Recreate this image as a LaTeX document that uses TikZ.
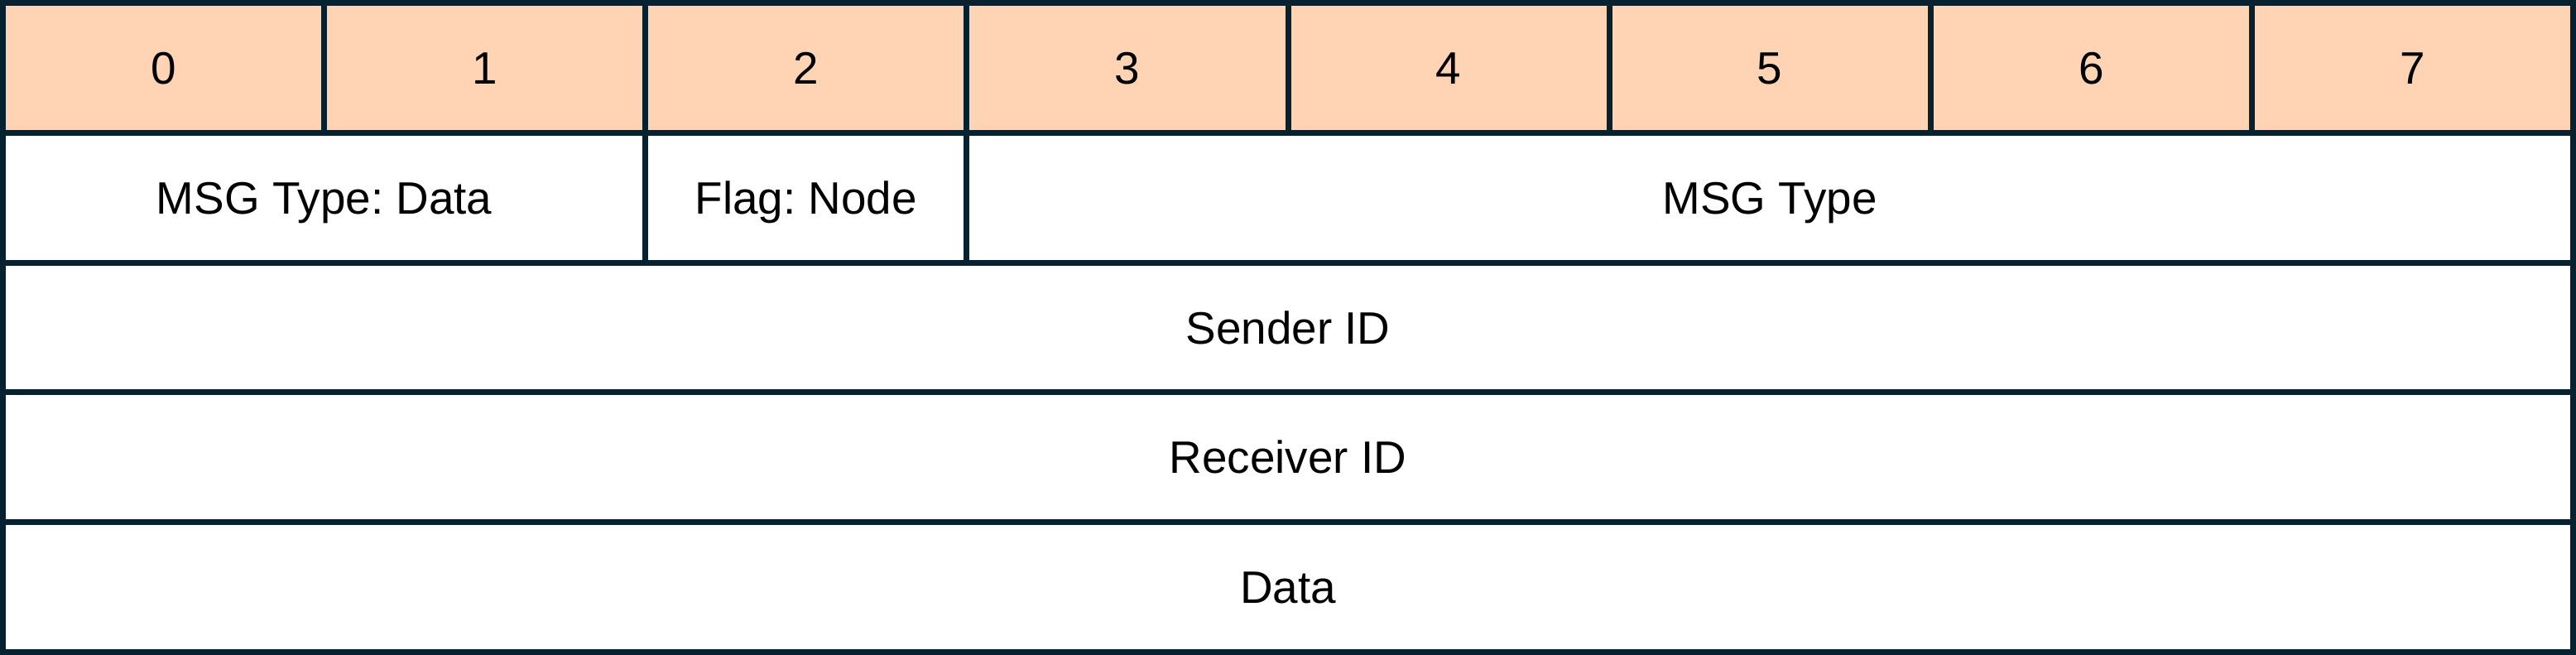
\documentclass[tikz,border=0pt]{standalone}
\usepackage{fontspec}
\setmainfont{Liberation Sans}
\frenchspacing
\definecolor{edge}{HTML}{06212F}
\definecolor{peach}{HTML}{FFD4B5}
\begin{document}
\begin{tikzpicture}[x=1cm,y=-1cm,
  cell/.style={draw=edge, line width=0.07cm, inner sep=0pt, outer sep=0pt, anchor=north west,
    font=\fontsize{15.6}{18}\selectfont, text=black, text height=11.17pt, text depth=0pt},
  head/.style={cell, fill=peach},
  body/.style={cell, fill=white}]
\useasboundingbox (0,0) rectangle (31.12,7.91);
\def\cw{3.88125}
\def\rh{1.568}
\foreach \i in {0,...,7}{
  \node[head, minimum width=\cw cm, minimum height=\rh cm] (h\i) at ({0.035+\i*\cw},0.035) {\i};
}
\node[body, minimum width=2*\cw cm, minimum height=\rh cm] (mtd) at (0.035,{0.035+\rh}) {MSG Type: Data};
\node[body, minimum width=\cw cm, minimum height=\rh cm] (flag) at ({0.035+2*\cw},{0.035+\rh}) {Flag: Node};
\node[body, minimum width=5*\cw cm, minimum height=\rh cm] (mt) at ({0.035+3*\cw},{0.035+\rh}) {MSG Type};
\node[body, minimum width=8*\cw cm, minimum height=\rh cm] (sid) at (0.035,{0.035+2*\rh}) {Sender ID};
\node[body, minimum width=8*\cw cm, minimum height=\rh cm] (rid) at (0.035,{0.035+3*\rh}) {Receiver ID};
\node[body, minimum width=8*\cw cm, minimum height=\rh cm] (data) at (0.035,{0.035+4*\rh}) {Data};
\end{tikzpicture}
\end{document}
